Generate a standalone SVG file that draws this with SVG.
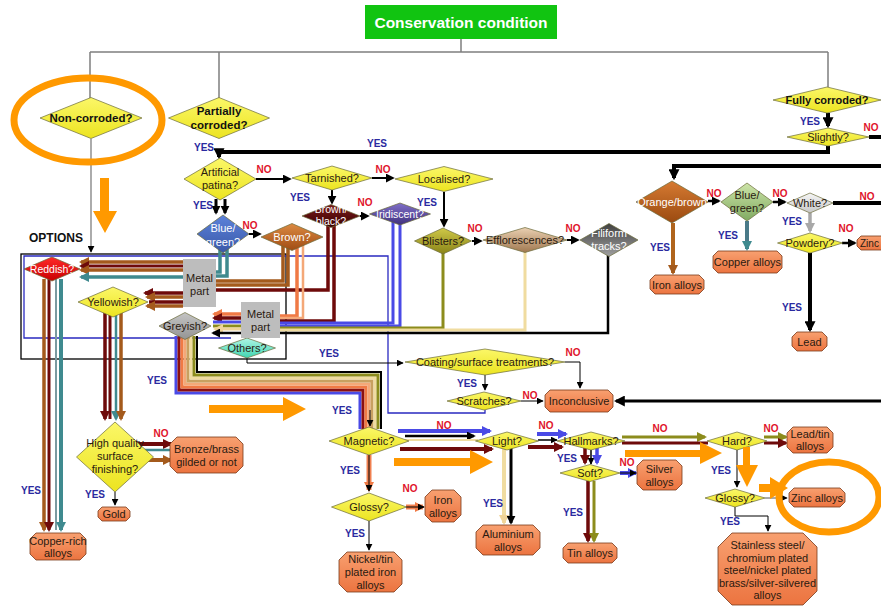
<svg xmlns="http://www.w3.org/2000/svg" width="881" height="607" viewBox="0 0 881 607">
<defs>
<style>
.t{font-family:"Liberation Sans",Arial,sans-serif;font-size:11px;fill:#2a1a10;text-anchor:middle;dominant-baseline:central}
.w{fill:#fff}
.bd{font-weight:bold;fill:#111;font-size:11.5px}
.yes,.no{font-family:"Liberation Sans",Arial,sans-serif;font-size:10px;font-weight:bold;text-anchor:middle;dominant-baseline:central}
.yes{fill:#2a2aa0}
.no{fill:#e0142c}
.dm{stroke:#6a6a3a;stroke-width:0.7}
.yl{fill:url(#gY)}
.oc{fill:url(#gO);stroke:#7a3a1a;stroke-width:0.8}
.mp{fill:#bdbdbd}
.c path{fill:none}
.ann{fill:#ff9900}
.ring{fill:none;stroke:#ff9900;stroke-width:7}
</style>
<linearGradient id="gY" x1="0" y1="0" x2="0" y2="1"><stop offset="0" stop-color="#fbf768"/><stop offset="1" stop-color="#ece420"/></linearGradient>
<linearGradient id="gO" x1="0" y1="0" x2="0" y2="1"><stop offset="0" stop-color="#f8a070"/><stop offset="1" stop-color="#ec7440"/></linearGradient>
<linearGradient id="gBrown" x1="0" y1="0" x2="0" y2="1"><stop offset="0" stop-color="#dc8a42"/><stop offset="1" stop-color="#a04c14"/></linearGradient>
<linearGradient id="gBB" x1="0" y1="0" x2="0" y2="1"><stop offset="0" stop-color="#7a1c1c"/><stop offset="1" stop-color="#3a0000"/></linearGradient>
<linearGradient id="gIri" x1="0" y1="0" x2="0" y2="1"><stop offset="0" stop-color="#8070c8"/><stop offset="1" stop-color="#40307e"/></linearGradient>
<linearGradient id="gBli" x1="0" y1="0" x2="0" y2="1"><stop offset="0" stop-color="#cfc848"/><stop offset="1" stop-color="#8a8418"/></linearGradient>
<linearGradient id="gEff" x1="0" y1="0" x2="0" y2="1"><stop offset="0" stop-color="#ead0b2"/><stop offset="1" stop-color="#a07850"/></linearGradient>
<linearGradient id="gFil" x1="0" y1="0" x2="0" y2="1"><stop offset="0" stop-color="#404040"/><stop offset="1" stop-color="#a0a0a0"/></linearGradient>
<linearGradient id="gOB" x1="0" y1="0" x2="0" y2="1"><stop offset="0" stop-color="#d67a32"/><stop offset="1" stop-color="#9a4a10"/></linearGradient>
<linearGradient id="gBG" x1="0" y1="0" x2="0" y2="1"><stop offset="0" stop-color="#cde4a8"/><stop offset="1" stop-color="#80aa62"/></linearGradient>
<linearGradient id="gOth" x1="0" y1="0" x2="0" y2="1"><stop offset="0" stop-color="#b0f6e6"/><stop offset="1" stop-color="#40d4b0"/></linearGradient>
<linearGradient id="gRed" x1="0" y1="0" x2="0" y2="1"><stop offset="0" stop-color="#ff2a2a"/><stop offset="1" stop-color="#c80000"/></linearGradient>
<linearGradient id="gBlue" x1="0" y1="0" x2="0" y2="1"><stop offset="0" stop-color="#5c82da"/><stop offset="1" stop-color="#3a58a8"/></linearGradient>
<linearGradient id="gGrey" x1="0" y1="0" x2="0" y2="1"><stop offset="0" stop-color="#c4c4c4"/><stop offset="1" stop-color="#949494"/></linearGradient>
<linearGradient id="gWhite" x1="0" y1="0" x2="0" y2="1"><stop offset="0" stop-color="#f6f6f6"/><stop offset="1" stop-color="#c8c8c8"/></linearGradient>
<marker id="mk7" viewBox="0 0 10 10" refX="9" refY="5" markerWidth="7" markerHeight="7" markerUnits="userSpaceOnUse" orient="auto"><path d="M0,0L10,5L0,10z" fill="#000"/></marker>
<marker id="mk" viewBox="0 0 10 10" refX="8" refY="5" markerWidth="9" markerHeight="9" markerUnits="userSpaceOnUse" orient="auto"><path d="M0,0L10,5L0,10z" fill="#000"/></marker>
<marker id="mkL" viewBox="0 0 10 10" refX="8" refY="5" markerWidth="11" markerHeight="11" markerUnits="userSpaceOnUse" orient="auto"><path d="M0,0L10,5L0,10z" fill="#000"/></marker>
<marker id="mb" viewBox="0 0 10 10" refX="8" refY="5" markerWidth="10" markerHeight="10" markerUnits="userSpaceOnUse" orient="auto"><path d="M0,0L10,5L0,10z" fill="#4a4ae6"/></marker>
<marker id="mm" viewBox="0 0 10 10" refX="8" refY="5" markerWidth="10" markerHeight="10" markerUnits="userSpaceOnUse" orient="auto"><path d="M0,0L10,5L0,10z" fill="#6e0a0a"/></marker>
<marker id="mr" viewBox="0 0 10 10" refX="8" refY="5" markerWidth="10" markerHeight="10" markerUnits="userSpaceOnUse" orient="auto"><path d="M0,0L10,5L0,10z" fill="#a45a1c"/></marker>
<marker id="mt" viewBox="0 0 10 10" refX="8" refY="5" markerWidth="10" markerHeight="10" markerUnits="userSpaceOnUse" orient="auto"><path d="M0,0L10,5L0,10z" fill="#3f8a8f"/></marker>
<marker id="mo" viewBox="0 0 10 10" refX="8" refY="5" markerWidth="10" markerHeight="10" markerUnits="userSpaceOnUse" orient="auto"><path d="M0,0L10,5L0,10z" fill="#f07a45"/></marker>
<marker id="mv" viewBox="0 0 10 10" refX="8" refY="5" markerWidth="10" markerHeight="10" markerUnits="userSpaceOnUse" orient="auto"><path d="M0,0L10,5L0,10z" fill="#8c8c1c"/></marker>
<marker id="mc" viewBox="0 0 10 10" refX="8" refY="5" markerWidth="10" markerHeight="10" markerUnits="userSpaceOnUse" orient="auto"><path d="M0,0L10,5L0,10z" fill="#f0d498"/></marker>
<marker id="mg" viewBox="0 0 10 10" refX="8" refY="5" markerWidth="10" markerHeight="10" markerUnits="userSpaceOnUse" orient="auto"><path d="M0,0L10,5L0,10z" fill="#a8a8a8"/></marker>
</defs>
<rect width="881" height="607" fill="#fff"/>

<g id="connectors" class="c">
<path d="M461,39V52M90,52H828M90,52V98M219,52V98M828,52V87" stroke="#7f7f7f" stroke-width="1.5"/>
<path d="M91,139V252" stroke="#7f7f7f" stroke-width="1.3" marker-end="url(#mk7)"/>
<path d="M828,146V152H219V157" stroke="#000" stroke-width="4" marker-end="url(#mkL)"/>
<path d="M881,166H674V178" stroke="#000" stroke-width="4" marker-end="url(#mkL)"/>
<path d="M828,113V126" stroke="#000" stroke-width="4" marker-end="url(#mkL)"/>
<path d="M869,137H881M833,203H881" stroke="#000" stroke-width="4"/>
<path d="M881,401H616" stroke="#000" stroke-width="3" marker-end="url(#mkL)"/>
<path d="M708,201H719" stroke="#000" stroke-width="2.5" marker-end="url(#mk)"/>
<path d="M773,202H785" stroke="#000" stroke-width="2.5" marker-end="url(#mk)"/>
<path d="M842,243H855" stroke="#000" stroke-width="2.5" marker-end="url(#mk)"/>
<path d="M810,213V231" stroke="#a8a8a8" stroke-width="3.5" marker-end="url(#mg)"/>
<path d="M810,253V330" stroke="#000" stroke-width="4" marker-end="url(#mkL)"/>
<path d="M673,223V273" stroke="#b0641c" stroke-width="4" marker-end="url(#mr)"/>
<path d="M747,221V249" stroke="#4a7a88" stroke-width="4" marker-end="url(#mt)"/>
<path d="M256,179H290" stroke="#000" stroke-width="2" marker-end="url(#mk)"/>
<path d="M372,178H393" stroke="#000" stroke-width="2" marker-end="url(#mk)"/>
<path d="M332,190V203" stroke="#000" stroke-width="2" marker-end="url(#mk)"/>
<path d="M444,192V226" stroke="#000" stroke-width="2" marker-end="url(#mk)"/>
<path d="M216,199V213" stroke="#000" stroke-width="3" marker-end="url(#mk)"/>
<path d="M225,199V213" stroke="#000" stroke-width="3" marker-end="url(#mk)"/>
<path d="M249,234H260" stroke="#000" stroke-width="2" marker-end="url(#mk)"/>
<path d="M360,216H368" stroke="#000" stroke-width="2" marker-end="url(#mk)"/>
<path d="M472,241H481" stroke="#000" stroke-width="2" marker-end="url(#mk)"/>
<path d="M567,240H578" stroke="#000" stroke-width="2" marker-end="url(#mk)"/>

<rect x="21" y="254" width="265" height="105" fill="none" stroke="#000" stroke-width="1.3"/>
<path d="M231,338H24V256H388V413H485V410" stroke="#2a2ac0" stroke-width="1.3"/>

<path d="M220,248V272H216M227,248V276H216" stroke="#3f8a8f" stroke-width="3.5"/>
<path d="M283,245V281H216M288,245V285H216" stroke="#a45a1c" stroke-width="3.5"/>
<path d="M328,222V290H216" stroke="#6e0a0a" stroke-width="3.5"/>
<path d="M297,245V316H280" stroke="#f07a45" stroke-width="3.5"/>
<path d="M303,245V318H280" stroke="#f4a878" stroke-width="2.5"/>
<path d="M334,222V321H280" stroke="#6e0a0a" stroke-width="3.5"/>
<path d="M393,220V323H280" stroke="#4a4ae6" stroke-width="3"/>
<path d="M400,220V326H280" stroke="#4a4ae6" stroke-width="3"/>
<path d="M443,250V328H280" stroke="#8c8c1c" stroke-width="3"/>
<path d="M525,248V330H280" stroke="#f0dca0" stroke-width="3"/>
<path d="M608,252V333H280" stroke="#000" stroke-width="2.5"/>

<path d="M183,262H81" stroke="#a45a1c" stroke-width="3.5" marker-end="url(#mr)"/>
<path d="M183,266H81" stroke="#6e0a0a" stroke-width="3" marker-end="url(#mm)"/>
<path d="M183,270H81" stroke="#a45a1c" stroke-width="3.5" marker-end="url(#mr)"/>
<path d="M183,277H81" stroke="#3f8a8f" stroke-width="3.5" marker-end="url(#mt)"/>
<path d="M183,293H145" stroke="#6e0a0a" stroke-width="3.5" marker-end="url(#mm)"/>
<path d="M183,297H147" stroke="#a45a1c" stroke-width="3.5" marker-end="url(#mr)"/>
<path d="M183,302H149" stroke="#6e0a0a" stroke-width="3.5"/>
<path d="M183,306H147" stroke="#a45a1c" stroke-width="3.5" marker-end="url(#mr)"/>

<path d="M241,314H214" stroke="#f07a45" stroke-width="3.5" marker-end="url(#mo)"/>
<path d="M241,318H214" stroke="#6e0a0a" stroke-width="3.5" marker-end="url(#mm)"/>
<path d="M241,322H213" stroke="#4a4ae6" stroke-width="3"/>
<path d="M241,326H213" stroke="#8c8c1c" stroke-width="3"/>
<path d="M241,329H215" stroke="#f0d498" stroke-width="3" marker-end="url(#mc)"/>
<path d="M241,333H213" stroke="#000" stroke-width="2.5" marker-end="url(#mk)"/>

<path d="M44,279V530" stroke="#a45a1c" stroke-width="3.5" marker-end="url(#mr)"/>
<path d="M49,279V530" stroke="#6e0a0a" stroke-width="3" marker-end="url(#mm)"/>
<path d="M56,279V530" stroke="#7a9aa0" stroke-width="2"/>
<path d="M61,279V530" stroke="#3f8a8f" stroke-width="4" marker-end="url(#mt)"/>
<path d="M105,312V419" stroke="#6e0a0a" stroke-width="3.5" marker-end="url(#mm)"/>
<path d="M110,312V419" stroke="#6e0a0a" stroke-width="3"/>
<path d="M116,312V419" stroke="#3f8a8f" stroke-width="2.5" marker-end="url(#mt)"/>
<path d="M121,312V419" stroke="#a45a1c" stroke-width="3.5" marker-end="url(#mr)"/>
<path d="M135,444H171" stroke="#6e0a0a" stroke-width="4" marker-end="url(#mm)"/>
<path d="M138,450H171" stroke="#3f8a8f" stroke-width="2.5"/>
<path d="M135,460H171" stroke="#a45a1c" stroke-width="4" marker-end="url(#mr)"/>
<path d="M115,492V505" stroke="#000" stroke-width="1" marker-end="url(#mk7)"/>

<path d="M176,336V393H360V429" stroke="#4a4ae6" stroke-width="3"/>
<path d="M179,336V390H363V429" stroke="#8a1010" stroke-width="3"/>
<path d="M182,336V387H366V429" stroke="#f07a45" stroke-width="3"/>
<path d="M185,336V384H369V429" stroke="#f4a878" stroke-width="3"/>
<path d="M188,336V381H372V429" stroke="#c8a060" stroke-width="3"/>
<path d="M191,336V378H375V429" stroke="#f0dca0" stroke-width="3"/>
<path d="M194,336V375H378V429" stroke="#8c8c1c" stroke-width="3"/>
<path d="M197,336V372H381V429" stroke="#000" stroke-width="2"/>
<path d="M370,410V426" stroke="#000" stroke-width="1" marker-end="url(#mk7)"/>

<path d="M247,358V363H403" stroke="#000" stroke-width="1" marker-end="url(#mk7)"/>
<path d="M565,362H580V388" stroke="#000" stroke-width="1" marker-end="url(#mk7)"/>
<path d="M485,375V390" stroke="#000" stroke-width="1" marker-end="url(#mk7)"/>
<path d="M521,401H543" stroke="#000" stroke-width="1" marker-end="url(#mk7)"/>

<path d="M398,431H490" stroke="#4a4ae6" stroke-width="4" marker-end="url(#mb)"/>
<path d="M405,436H474" stroke="#000" stroke-width="2.5" marker-end="url(#mk)"/>
<path d="M405,440H478" stroke="#f0dca0" stroke-width="2"/>
<path d="M400,449H492" stroke="#6e0a0a" stroke-width="4" marker-end="url(#mm)"/>
<path d="M369,455V490" stroke="#f08050" stroke-width="5" marker-end="url(#mo)"/>
<path d="M369,455V491" stroke="#000" stroke-width="1" marker-end="url(#mk7)"/>
<path d="M406,507H423" stroke="#f08050" stroke-width="5" marker-end="url(#mo)"/>
<path d="M406,507H424" stroke="#000" stroke-width="1" marker-end="url(#mk7)"/>
<path d="M369,521V550" stroke="#000" stroke-width="1" marker-end="url(#mk7)"/>
<path d="M504,448V523" stroke="#f0dca0" stroke-width="4" marker-end="url(#mc)"/>
<path d="M511,448V523" stroke="#000" stroke-width="3" marker-end="url(#mk)"/>
<path d="M537,434H566" stroke="#4a4ae6" stroke-width="4" marker-end="url(#mb)"/>
<path d="M538,440H557" stroke="#000" stroke-width="1.5" marker-end="url(#mk7)"/>
<path d="M528,447H562" stroke="#6e0a0a" stroke-width="4" marker-end="url(#mm)"/>
<path d="M585,448V463" stroke="#6e0a0a" stroke-width="3.5" marker-end="url(#mm)"/>
<path d="M591,450V464" stroke="#000" stroke-width="1.5" marker-end="url(#mk7)"/>
<path d="M597,448V463" stroke="#4a4ae6" stroke-width="3.5" marker-end="url(#mb)"/>
<path d="M620,473H636" stroke="#4a4ae6" stroke-width="4" marker-end="url(#mb)"/>
<path d="M620,473H636" stroke="#000" stroke-width="1" marker-end="url(#mk7)"/>
<path d="M588,481V541" stroke="#6e0a0a" stroke-width="3.5" marker-end="url(#mm)"/>
<path d="M594,481V541" stroke="#8c8c1c" stroke-width="3" marker-end="url(#mv)"/>
<path d="M622,437H705" stroke="#8c8c1c" stroke-width="3" marker-end="url(#mv)"/>
<path d="M622,443H708" stroke="#6e0a0a" stroke-width="3"/>
<path d="M764,437H786" stroke="#8c8c1c" stroke-width="3" marker-end="url(#mv)"/>
<path d="M764,443H786" stroke="#6e0a0a" stroke-width="3" marker-end="url(#mm)"/>
<path d="M737,450V487" stroke="#000" stroke-width="1" marker-end="url(#mk7)"/>
<path d="M765,498H787" stroke="#555" stroke-width="1" marker-end="url(#mk7)"/>
<path d="M735,507V516H768V531" stroke="#000" stroke-width="1" marker-end="url(#mk7)"/>
</g>

<g id="n-title"><rect x="365" y="5" width="192" height="34" fill="#11c411"/><text class="t" x="461" y="22" style="font-size:15.5px;font-weight:bold;fill:#fff">Conservation condition</text></g>
<g id="n-noncorroded"><polygon class="yl dm" points="40,118 91,97.5 142,118 91,138.5"/><text class="t bd" x="91" y="118">Non-corroded?</text></g>
<g id="n-partially"><polygon class="yl dm" points="168.5,118 219,97.5 269.5,118 219,138.5"/><text class="t bd" x="219" y="111">Partially</text><text class="t bd" x="219" y="125">corroded?</text></g>
<g id="n-fully"><polygon class="yl dm" points="773,100 827,87 881,100 827,113"/><text class="t bd" x="827" y="100" style="font-size:11px">Fully corroded?</text></g>
<g id="n-slightly"><polygon class="yl dm" points="787,137 828,128 869,137 828,146"/><text class="t" x="828" y="137">Slightly?</text></g>
<g id="n-artificial"><polygon class="yl dm" points="184,179 220,158 256,179 220,200"/><text class="t" x="220" y="172">Artificial</text><text class="t" x="220" y="185">patina?</text></g>
<g id="n-tarnished"><polygon class="yl dm" points="292,178 332,166 372,178 332,190"/><text class="t" x="332" y="178">Tarnished?</text></g>
<g id="n-localised"><polygon class="yl dm" points="395,179 444,166.5 493,179 444,191.5"/><text class="t" x="444" y="179">Localised?</text></g>
<g id="n-bluegreen1"><polygon fill="url(#gBlue)" class="dm" points="197,234 223,215 249,234 223,253"/><text class="t w" x="223" y="228">Blue/</text><text class="t w" x="223" y="242">green?</text></g>
<g id="n-brown"><polygon fill="url(#gBrown)" class="dm" points="261,237 292,223.5 323,237 292,250.5"/><text class="t w" x="292" y="237">Brown?</text></g>
<g id="n-brownblack"><polygon fill="url(#gBB)" class="dm" points="302,216 331,204.5 360,216 331,227.5"/><text class="t w" x="331" y="209" style="font-size:10.5px">Brown/</text><text class="t w" x="331" y="221" style="font-size:10.5px">black?</text></g>
<g id="n-iridiscent"><polygon fill="url(#gIri)" class="dm" points="369.5,214 400,203 430.5,214 400,225"/><text class="t w" x="400" y="214" style="font-size:10.5px">Iridiscent?</text></g>
<g id="n-blisters"><polygon fill="url(#gBli)" class="dm" points="414.5,241 443,228 471.5,241 443,254"/><text class="t" x="443" y="241">Blisters?</text></g>
<g id="n-efflorescences"><polygon fill="url(#gEff)" class="dm" points="483,240 525,227.5 567,240 525,252.5"/><text class="t" x="525" y="240">Efflorescences?</text></g>
<g id="n-filiform"><polygon fill="url(#gFil)" class="dm" points="580,240 609,223.5 638,240 609,256.5"/><text class="t w" x="609" y="233">Filiform</text><text class="t w" x="609" y="246">tracks?</text></g>
<g id="n-orangebrown"><polygon fill="url(#gOB)" class="dm" points="636,202 672,181 708,202 672,223"/><text class="t w" x="672" y="202">Orange/brown</text></g>
<g id="n-bluegreen2"><polygon fill="url(#gBG)" class="dm" points="721,202 747,183 773,202 747,221"/><text class="t" x="747" y="195">Blue/</text><text class="t" x="747" y="208">green?</text></g>
<g id="n-white"><polygon fill="url(#gWhite)" class="dm" points="787,203 810,193 833,203 810,213"/><text class="t" x="810" y="203">White?</text></g>
<g id="n-powdery"><polygon class="yl dm" points="777.5,243 810,233 842.5,243 810,253"/><text class="t" x="810" y="243">Powdery?</text></g>
<g id="n-reddish"><polygon fill="url(#gRed)" class="dm" points="24,269 52,257 80,269 52,281"/><text class="t w" x="52" y="269" style="font-size:10.5px">Reddish?</text></g>
<g id="n-yellowish"><polygon class="yl dm" points="78,302 113,287 148,302 113,317"/><text class="t" x="113" y="302">Yellowish?</text></g>
<g id="n-greyish"><polygon fill="url(#gGrey)" class="dm" points="159,326 185,312.5 211,326 185,339.5"/><text class="t" x="185" y="326">Greyish?</text></g>
<g id="n-others"><polygon fill="url(#gOth)" class="dm" points="218.5,348 247,338 275.5,348 247,358"/><text class="t" x="247" y="348">Others?</text></g>
<g id="n-metal1"><rect class="mp" x="183" y="259" width="33" height="48"/><text class="t" x="199.5" y="278">Metal</text><text class="t" x="199.5" y="291">part</text></g>
<g id="n-metal2"><rect class="mp" x="241" y="302" width="39" height="36"/><text class="t" x="260.5" y="314">Metal</text><text class="t" x="260.5" y="327">part</text></g>
<g id="n-highquality"><polygon class="yl dm" points="76.5,457 115,422 153.5,457 115,492"/><text class="t" x="115" y="443">High quality</text><text class="t" x="115" y="456">surface</text><text class="t" x="115" y="469">finishing?</text></g>
<g id="n-coating"><polygon class="yl dm" points="405,362 485,349 565,362 485,375"/><text class="t" x="485" y="362">Coating/surface treatments?</text></g>
<g id="n-scratches"><polygon class="yl dm" points="447,401 484,392 521,401 484,410"/><text class="t" x="484" y="401">Scratches?</text></g>
<g id="n-magnetic"><polygon class="yl dm" points="329,441 369,427 409,441 369,455"/><text class="t" x="369" y="441">Magnetic?</text></g>
<g id="n-glossy1"><polygon class="yl dm" points="331.5,507 369,493 406.5,507 369,521"/><text class="t" x="369" y="507">Glossy?</text></g>
<g id="n-light"><polygon class="yl dm" points="475.5,441 507,432 538.5,441 507,450"/><text class="t" x="507" y="441">Light?</text></g>
<g id="n-hallmarks"><polygon class="yl dm" points="557,441 591,432 625,441 591,450"/><text class="t" x="591" y="441">Hallmarks?</text></g>
<g id="n-soft"><polygon class="yl dm" points="560,473 590,464.5 620,473 590,481.5"/><text class="t" x="590" y="473">Soft?</text></g>
<g id="n-hard"><polygon class="yl dm" points="707,441 737,432 767,441 737,450"/><text class="t" x="737" y="441">Hard?</text></g>
<g id="n-glossy2"><polygon class="yl dm" points="705,498 735,489 765,498 735,507"/><text class="t" x="735" y="498">Glossy?</text></g>

<g id="n-iron1"><path class="oc" d="M655,275H699L704,280V289L699,294H655L650,289V280Z"/><text class="t" x="677" y="284.5">Iron alloys</text></g>
<g id="n-copper"><path class="oc" d="M718,251H777L782,256V268L777,273H718L713,268V256Z"/><text class="t" x="747.5" y="262">Copper alloys</text></g>
<g id="n-lead"><path class="oc" d="M797,332H822L827,337V346L822,351H797L792,346V337Z"/><text class="t" x="809.5" y="341.5">Lead</text></g>
<g id="n-zinc1"><path class="oc" d="M861,236H893L897,240V246L893,250H861L857,246V240Z"/><text class="t" x="860" y="243" style="text-anchor:start;font-size:10px">Zinc</text></g>
<g id="n-inconclusive"><path class="oc" d="M550,390H608L613,395V407L608,412H550L545,407V395Z"/><text class="t" x="579" y="401">Inconclusive</text></g>
<g id="n-bronze"><path class="oc" d="M177,437H236L243,444V466L236,473H177L170,466V444Z"/><text class="t" x="206.5" y="449">Bronze/brass</text><text class="t" x="206.5" y="462">gilded or not</text></g>
<g id="n-gold"><path class="oc" d="M102,507H126L130,511V517L126,521H102L98,517V511Z"/><text class="t" x="114" y="514">Gold</text></g>
<g id="n-copperrich"><path class="oc" d="M36,533H80L86,539V554L80,560H36L30,554V539Z"/><text class="t" x="58" y="540.5">Copper-rich</text><text class="t" x="58" y="553">alloys</text></g>
<g id="n-iron2"><path class="oc" d="M432,490H454L461,497V515L454,522H432L425,515V497Z"/><text class="t" x="443" y="499.5">Iron</text><text class="t" x="443" y="512.5">alloys</text></g>
<g id="n-nickel"><path class="oc" d="M347,552H394L402,560V584L394,592H347L339,584V560Z"/><text class="t" x="370.5" y="559">Nickel/tin</text><text class="t" x="370.5" y="572">plated iron</text><text class="t" x="370.5" y="585">alloys</text></g>
<g id="n-aluminium"><path class="oc" d="M483,525H533L540,532V548L533,555H483L476,548V532Z"/><text class="t" x="508" y="533.5">Aluminium</text><text class="t" x="508" y="546.5">alloys</text></g>
<g id="n-silver"><path class="oc" d="M643,460H676L682,466V484L676,490H643L637,484V466Z"/><text class="t" x="659.5" y="468.5">Silver</text><text class="t" x="659.5" y="481.5">alloys</text></g>
<g id="n-tin"><path class="oc" d="M568,543H612L617,548V558L612,563H568L563,558V548Z"/><text class="t" x="590" y="553">Tin alloys</text></g>
<g id="n-leadtin"><path class="oc" d="M793,427H827L833,433V447L827,453H793L787,447V433Z"/><text class="t" x="810" y="433.5">Lead/tin</text><text class="t" x="810" y="446">alloys</text></g>
<g id="n-zinc2"><path class="oc" d="M794,488H840L845,493V502L840,507H794L789,502V493Z"/><text class="t" x="817" y="497.5">Zinc alloys</text></g>
<g id="n-stainless"><path class="oc" d="M732,533H803L817,547V591L803,605H732L718,591V547Z"/><text class="t" x="767.5" y="545">Stainless steel/</text><text class="t" x="767.5" y="558">chromium plated</text><text class="t" x="767.5" y="570">steel/nickel plated</text><text class="t" x="767.5" y="583">brass/silver-silvered</text><text class="t" x="767.5" y="595">alloys</text></g>

<g id="labels">
<text class="t bd" x="56" y="238" style="font-size:12px">OPTIONS</text>
<text class="yes" x="204" y="147">YES</text>
<text class="yes" x="377" y="143">YES</text>
<text class="yes" x="810" y="121">YES</text>
<text class="yes" x="203" y="205">YES</text>
<text class="yes" x="300" y="197">YES</text>
<text class="yes" x="427" y="202">YES</text>
<text class="yes" x="660" y="247">YES</text>
<text class="yes" x="728" y="235">YES</text>
<text class="yes" x="792" y="221">YES</text>
<text class="yes" x="792" y="307">YES</text>
<text class="yes" x="157" y="380">YES</text>
<text class="yes" x="329" y="353">YES</text>
<text class="yes" x="467" y="383">YES</text>
<text class="yes" x="342" y="410">YES</text>
<text class="yes" x="350" y="470">YES</text>
<text class="yes" x="355" y="533">YES</text>
<text class="yes" x="493" y="503">YES</text>
<text class="yes" x="567" y="458">YES</text>
<text class="yes" x="573" y="512">YES</text>
<text class="yes" x="721" y="470">YES</text>
<text class="yes" x="730" y="521">YES</text>
<text class="yes" x="31" y="490">YES</text>
<text class="yes" x="95" y="494">YES</text>
<text class="no" x="264" y="169">NO</text>
<text class="no" x="383" y="169">NO</text>
<text class="no" x="250" y="225">NO</text>
<text class="no" x="365" y="202">NO</text>
<text class="no" x="475" y="228">NO</text>
<text class="no" x="573" y="228">NO</text>
<text class="no" x="871" y="127">NO</text>
<text class="no" x="714" y="193">NO</text>
<text class="no" x="780" y="193">NO</text>
<text class="no" x="867" y="196">NO</text>
<text class="no" x="846" y="228">NO</text>
<text class="no" x="573" y="352">NO</text>
<text class="no" x="530" y="395">NO</text>
<text class="no" x="444" y="425">NO</text>
<text class="no" x="410" y="488">NO</text>
<text class="no" x="546" y="425">NO</text>
<text class="no" x="660" y="428">NO</text>
<text class="no" x="771" y="428">NO</text>
<text class="no" x="627" y="462">NO</text>
<text class="no" x="161" y="433">NO</text>
</g>

<g id="annotations">
<ellipse class="ring" cx="88" cy="120" rx="74" ry="42"/>
<ellipse class="ring" cx="829" cy="497" rx="50" ry="35"/>
<path class="ann" d="M100,178H109V211H117L105,233L93,211H100Z"/>
<path class="ann" d="M209,405H283V397L306,409L283,421V413H209Z"/>
<path class="ann" d="M394,458H470V450L493,462L470,474V466H394Z"/>
<path class="ann" d="M625,450H700V442L722,453L700,464V457H625Z"/>
<path class="ann" d="M743,447H750V465H758L747,487L736,465H743Z"/>
<path class="ann" d="M759,484H770V477L788,488L770,499V492H759Z"/>
</g>
</svg>
